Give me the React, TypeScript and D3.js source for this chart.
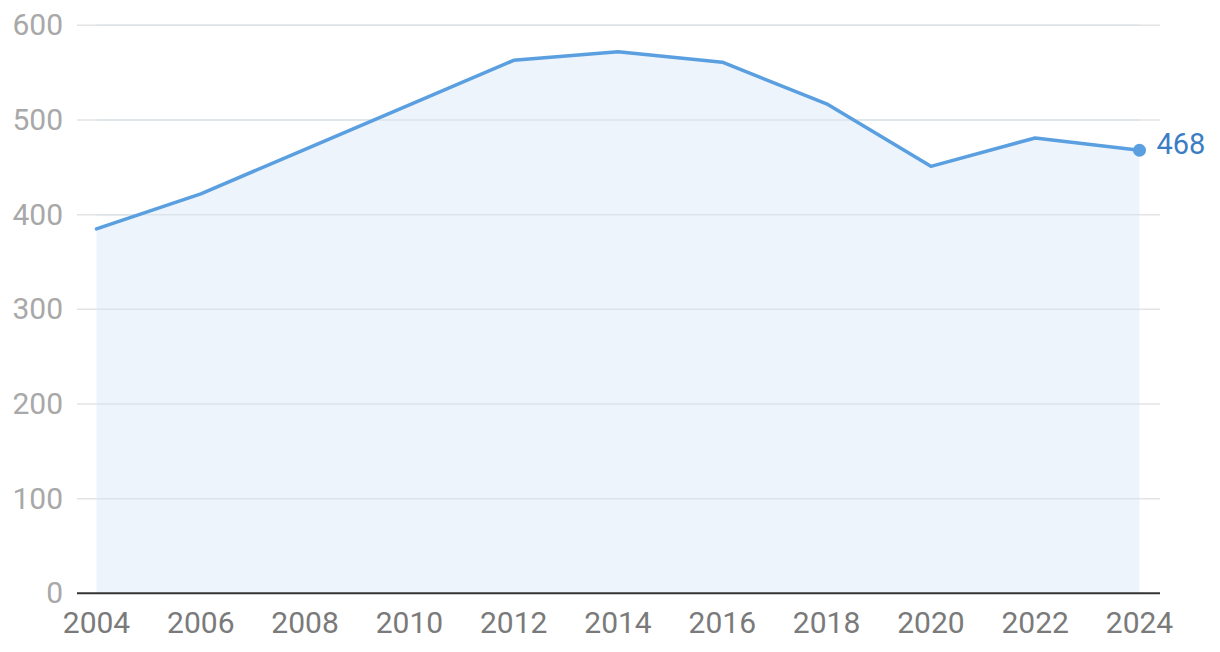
import React from "react";
import * as d3 from "d3";

const years = [2004, 2006, 2008, 2010, 2012, 2014, 2016, 2018, 2020, 2022, 2024];
const values = [385, 422, 469, 516, 563, 572, 561, 517, 451, 481, 468];
const yTicks = [0, 100, 200, 300, 400, 500, 600];
const xTicks = [2004, 2006, 2008, 2010, 2012, 2014, 2016, 2018, 2020, 2022, 2024];

const W = 1220;
const H = 652;

export default function App() {
  const x = d3.scaleLinear().domain([2004, 2024]).range([96.5, 1139.5]);
  const y = d3.scaleLinear().domain([0, 600]).range([593.3, 25.3]);
  const data = years.map((yr, i) => ({ yr, v: values[i] }));
  const line = d3.line<{ yr: number; v: number }>().x((d) => x(d.yr)).y((d) => y(d.v));
  const area = d3
    .area<{ yr: number; v: number }>()
    .x((d) => x(d.yr))
    .y0(y(0))
    .y1((d) => y(d.v));
  const last = data[data.length - 1];
  const font = "Roboto, 'Noto Sans', sans-serif";
  return (
    <svg
      width={W}
      height={H}
      style={{ position: "absolute", left: 0, top: 0, background: "#fff" }}
      fontFamily={font}
    >
      {yTicks.map((t) => (
        <g key={t}>
          {t !== 0 && (
            <line x1={77} x2={1160} y1={y(t)} y2={y(t)} stroke="#e3e3e3" strokeWidth={1.5} />
          )}
          <text x={63} y={y(t) + 10} textAnchor="end" fontSize={30} fill="#a8a8a8">
            {t}
          </text>
        </g>
      ))}
      <path d={area(data) || ""} fill="#edf4fc" />
      {yTicks
        .filter((t) => t !== 0)
        .map((t) => (
          <line
            key={"g" + t}
            x1={x(2004)}
            x2={x(2024)}
            y1={y(t)}
            y2={y(t)}
            stroke="#dde3ea"
            strokeWidth={1.5}
          />
        ))}
      <path d={line(data) || ""} fill="none" stroke="#5a9fe0" strokeWidth={3.5} strokeLinejoin="round" strokeLinecap="round" />
      <line x1={77} x2={1160} y1={y(0)} y2={y(0)} stroke="#333" strokeWidth={2} />
      {xTicks.map((t) => (
        <text key={t} x={x(t)} y={633} textAnchor="middle" fontSize={30} fill="#7a7a7a">
          {t}
        </text>
      ))}
      <circle cx={x(last.yr)} cy={y(last.v)} r={6.5} fill="#5a9fe0" />
      <text x={x(last.yr) + 17} y={y(last.v) + 3.5} fontSize={29} fill="#3b7dc4">
        {last.v}
      </text>
    </svg>
  );
}
